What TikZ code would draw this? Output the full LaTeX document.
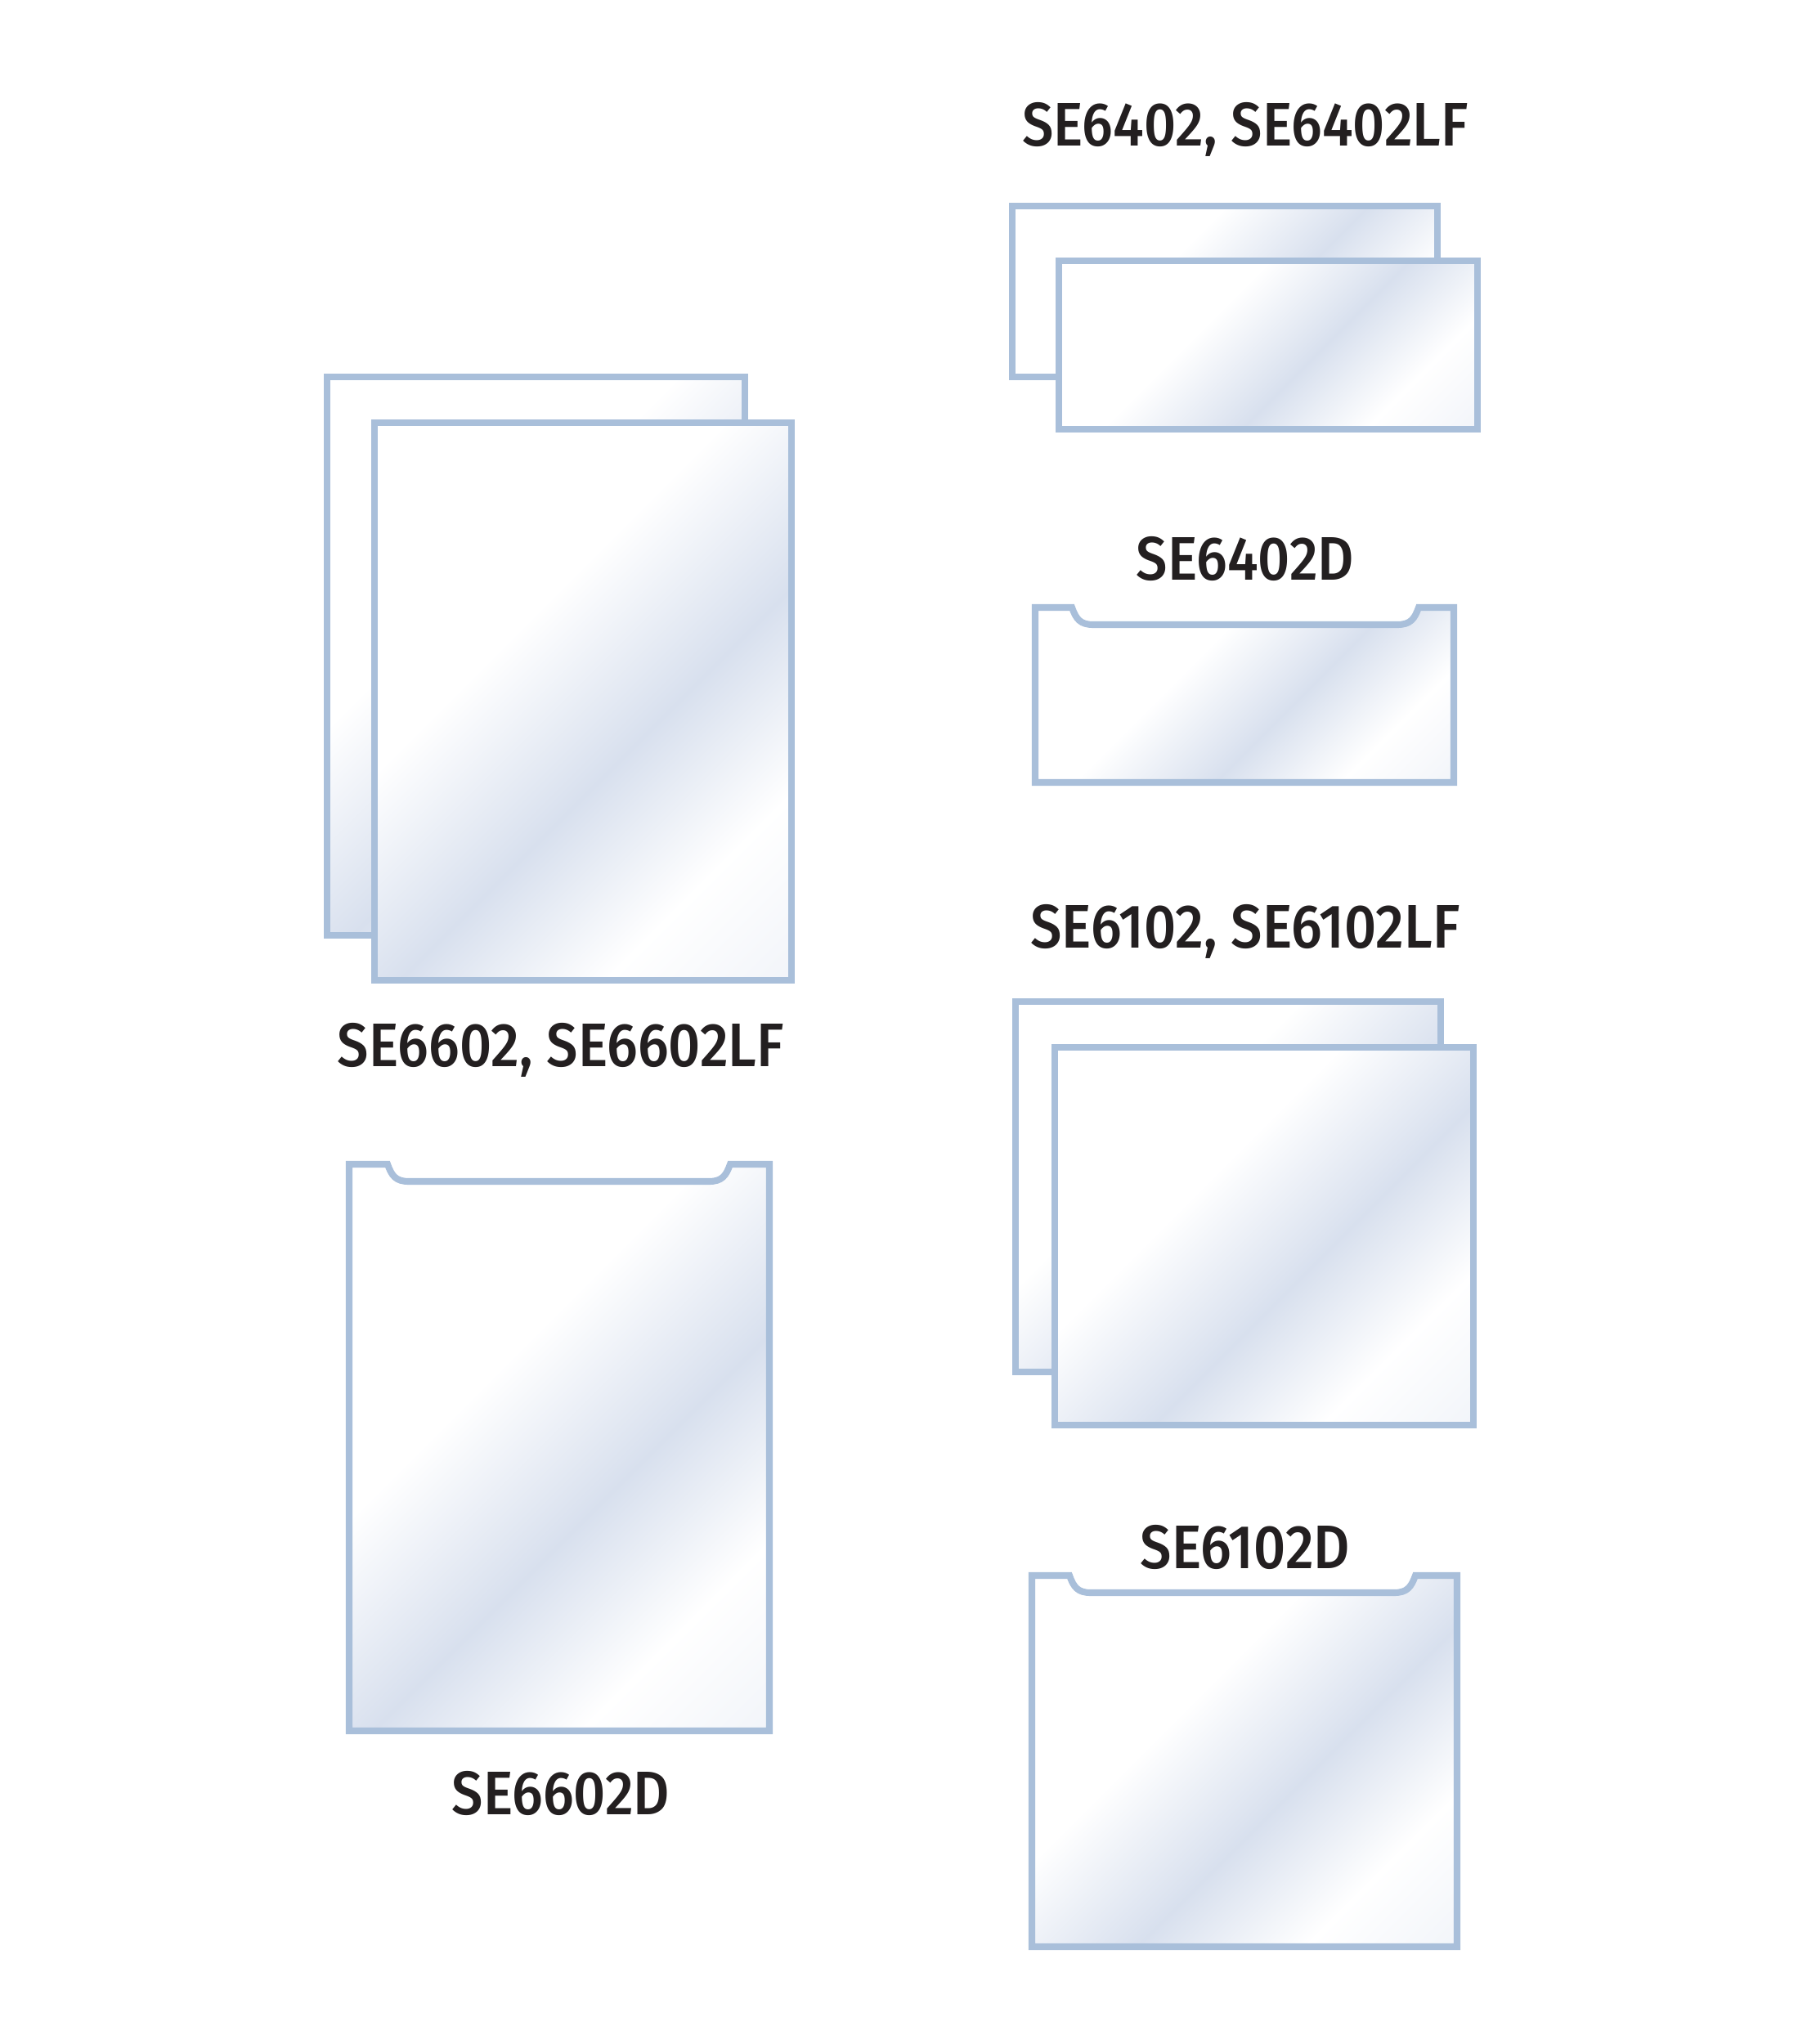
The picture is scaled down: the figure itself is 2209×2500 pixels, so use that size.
\documentclass[tikz,border=0pt]{standalone}
\usepackage{fontspec}
\newfontfamily\tagfont{Fira Sans Medium}
\definecolor{edgeblue}{HTML}{A9BFDA}
\definecolor{sheenblue}{HTML}{D8E0EE}
\definecolor{ink}{HTML}{231F20}
\pgfdeclarehorizontalshading{sheen}{100bp}{color(0bp)=(white); color(40bp)=(white);
  color(57bp)=(sheenblue); color(72bp)=(white); color(88bp)=(sheenblue!40); color(100bp)=(sheenblue!40)}
\tikzset{
  sleeve/.style={draw=edgeblue, line width=2.3pt, shading=sheen, shading angle=-45},
  tag/.style={font=\tagfont\fontsize{21.4}{26}\selectfont, text=ink, inner sep=0pt, xscale=0.91}
}
% pocket with a thumb notch: left, top, right, bottom, notch left, notch right
\newcommand\notchpocket[6]{
  \path[sleeve] (#1,#2) -- (#5,#2)
    .. controls ({#5+5},{#2+14}) and ({#5+10},{#2+21}) .. ({#5+26},{#2+21})
    -- ({#6-26},{#2+21})
    .. controls ({#6-10},{#2+21}) and ({#6-5},{#2+14}) .. (#6,#2)
    -- (#3,#2) -- (#3,#4) -- (#1,#4) -- cycle;
}
\begin{document}
\begin{tikzpicture}[x=0.01cm, y=-0.01cm]
  \useasboundingbox (0,0) rectangle (2209,2500);

  % left column
  \path[sleeve] (400,461) rectangle (911,1144);
  \path[sleeve] (458,517) rectangle (968,1199);
  \node[tag] (se6602) at (686,1284) {SE6602, SE6602LF};
  \notchpocket{427}{1424}{941}{2117}{474}{893}
  \node[tag] (se6602d) at (686,2193) {SE6602D};

  % right column
  \node[tag] (se6402) at (1523,158) {SE6402, SE6402LF};
  \path[sleeve] (1238,252) rectangle (1758,461);
  \path[sleeve] (1295,319) rectangle (1807,525);
  \node[tag] (se6402d) at (1523,683) {SE6402D};
  \notchpocket{1266}{743}{1778}{957}{1311}{1735}
  \node[tag] (se6102) at (1523,1139) {SE6102, SE6102LF};
  \path[sleeve] (1242,1225) rectangle (1762,1678);
  \path[sleeve] (1290,1281) rectangle (1802,1743);
  \node[tag] (se6102d) at (1523,1892) {SE6102D};
  \notchpocket{1262}{1927}{1782}{2381}{1308}{1731}
\end{tikzpicture}
\end{document}
